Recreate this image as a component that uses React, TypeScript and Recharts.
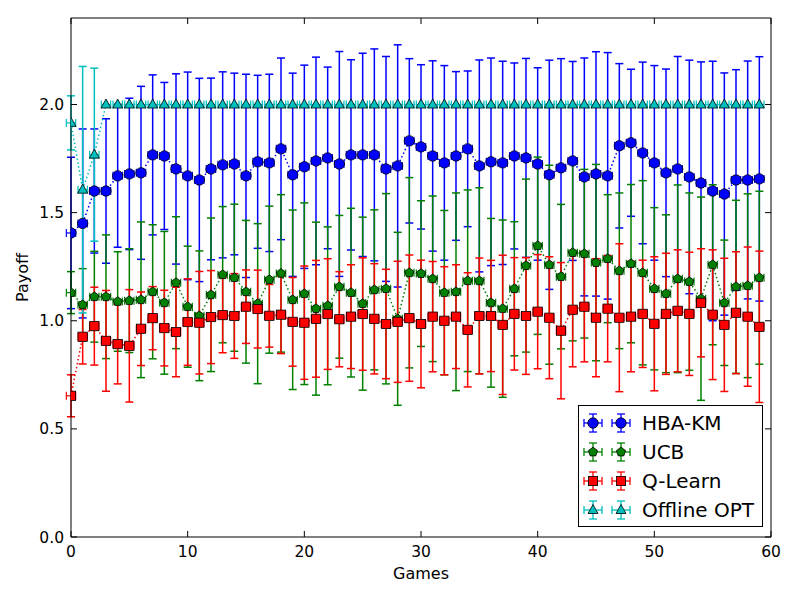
import React from "react";
import { ErrorBar, Legend, Scatter, ScatterChart, XAxis, YAxis } from "recharts";

// Game index 0..59 on the x axis.
const GAMES = Array.from({ length: 60 }, (_, i) => i);

const HBA_KM = [
  1.406, 1.45, 1.6, 1.6, 1.67, 1.679, 1.684, 1.767, 1.762, 1.702,
  1.67, 1.651, 1.702, 1.721, 1.725, 1.67, 1.735, 1.73, 1.795, 1.675,
  1.712, 1.739, 1.753, 1.725, 1.767, 1.767, 1.767, 1.702, 1.716, 1.832,
  1.804, 1.762, 1.73, 1.762, 1.795, 1.716, 1.735, 1.73, 1.762, 1.753,
  1.725, 1.675, 1.707, 1.739, 1.665, 1.679, 1.67, 1.809, 1.823, 1.776,
  1.73, 1.684, 1.702, 1.665, 1.637, 1.6, 1.586, 1.651, 1.651, 1.656,
];
const HBA_KM_ERR = [
  0.35, 0.437, 0.287, 0.334, 0.33, 0.35, 0.4, 0.37, 0.34, 0.44,
  0.48, 0.47, 0.42, 0.43, 0.42, 0.47, 0.4, 0.41, 0.42, 0.47,
  0.47, 0.48, 0.42, 0.52, 0.44, 0.47, 0.49, 0.52, 0.56, 0.38,
  0.38, 0.44, 0.45, 0.39, 0.36, 0.49, 0.48, 0.47, 0.43, 0.46,
  0.445, 0.53, 0.505, 0.46, 0.55, 0.565, 0.57, 0.38, 0.34, 0.42,
  0.45, 0.48, 0.52, 0.54, 0.56, 0.6, 0.56, 0.51, 0.55, 0.565,
];

const UCB = [
  1.13, 1.074, 1.111, 1.111, 1.089, 1.093, 1.097, 1.134, 1.083, 1.176,
  1.065, 1.023, 1.12, 1.213, 1.199, 1.134, 1.079, 1.19, 1.219, 1.097,
  1.125, 1.056, 1.069, 1.157, 1.13, 1.079, 1.143, 1.148, 1.009, 1.222,
  1.218, 1.194, 1.13, 1.134, 1.185, 1.185, 1.083, 1.056, 1.148, 1.255,
  1.347, 1.259, 1.204, 1.315, 1.31, 1.269, 1.287, 1.231, 1.264, 1.222,
  1.148, 1.125, 1.194, 1.181, 1.102, 1.259, 1.083, 1.157, 1.162, 1.199,
];
const UCB_ERR = [
  0.097, 0.167, 0.21, 0.286, 0.23, 0.24, 0.36, 0.31, 0.33, 0.305,
  0.28, 0.3, 0.355, 0.315, 0.34, 0.33, 0.37, 0.34, 0.364, 0.415,
  0.42, 0.4, 0.365, 0.33, 0.39, 0.4, 0.37, 0.44, 0.4, 0.44,
  0.337, 0.383, 0.38, 0.457, 0.42, 0.43, 0.39, 0.41, 0.31, 0.4,
  0.41, 0.46, 0.334, 0.408, 0.39, 0.454, 0.296, 0.36, 0.366, 0.426,
  0.375, 0.365, 0.434, 0.41, 0.47, 0.37, 0.29, 0.4, 0.425, 0.4,
];

const Q_LEARN = [
  0.653, 0.926, 0.975, 0.907, 0.892, 0.884, 0.963, 1.012, 0.966, 0.948,
  0.994, 0.991, 1.017, 1.026, 1.022, 1.065, 1.054, 1.023, 1.028, 0.995,
  0.991, 1.009, 1.031, 1.007, 1.019, 1.031, 1.009, 0.985, 0.995, 1.012,
  0.985, 1.019, 1.0, 1.019, 0.958, 1.022, 1.022, 0.981, 1.032, 1.022,
  1.042, 1.014, 0.954, 1.051, 1.065, 1.014, 1.056, 1.014, 1.019, 1.032,
  0.986, 1.032, 1.046, 1.032, 1.083, 1.028, 0.981, 1.037, 1.019, 0.972,
];
const Q_LEARN_ERR = [
  0.097, 0.126, 0.18, 0.233, 0.184, 0.26, 0.17, 0.146, 0.175, 0.207,
  0.2, 0.237, 0.215, 0.174, 0.196, 0.17, 0.18, 0.145, 0.18, 0.205,
  0.262, 0.27, 0.256, 0.22, 0.24, 0.26, 0.255, 0.253, 0.28, 0.292,
  0.295, 0.255, 0.25, 0.24, 0.264, 0.268, 0.257, 0.322, 0.26, 0.27,
  0.264, 0.282, 0.315, 0.264, 0.255, 0.273, 0.246, 0.342, 0.255, 0.248,
  0.31, 0.28, 0.282, 0.285, 0.25, 0.3, 0.308, 0.282, 0.322, 0.35,
];

const OFFLINE_OPT = [
  1.915, 1.606, 1.768, 2.0, 2.0, 2.0, 2.0, 2.0, 2.0, 2.0,
  2.0, 2.0, 2.0, 2.0, 2.0, 2.0, 2.0, 2.0, 2.0, 2.0,
  2.0, 2.0, 2.0, 2.0, 2.0, 2.0, 2.0, 2.0, 2.0, 2.0,
  2.0, 2.0, 2.0, 2.0, 2.0, 2.0, 2.0, 2.0, 2.0, 2.0,
  2.0, 2.0, 2.0, 2.0, 2.0, 2.0, 2.0, 2.0, 2.0, 2.0,
  2.0, 2.0, 2.0, 2.0, 2.0, 2.0, 2.0, 2.0, 2.0, 2.0,
];
const OFFLINE_OPT_ERR = [
  0.125, 0.57, 0.4, 0, 0, 0, 0, 0, 0, 0,
  0, 0, 0, 0, 0, 0, 0, 0, 0, 0,
  0, 0, 0, 0, 0, 0, 0, 0, 0, 0,
  0, 0, 0, 0, 0, 0, 0, 0, 0, 0,
  0, 0, 0, 0, 0, 0, 0, 0, 0, 0,
  0, 0, 0, 0, 0, 0, 0, 0, 0, 0,
];

// Horizontal error half-width, same for every point.
const X_ERR = 0.4;

const X_TICKS = [0, 10, 20, 30, 40, 50, 60];
const Y_TICKS = [0, 0.5, 1, 1.5, 2];

const FONT = "'DejaVu Sans', sans-serif";

type Kind = "circle" | "pentagon" | "square" | "triangle";

const toRows = (vals: number[], errs: number[]) =>
  GAMES.map((g, i) => ({ x: g, y: vals[i], err: errs[i], xerr: X_ERR }));

// The last series is hung on the top/right axes so those get drawn too
// (same domains, so the marks land in the same place).
const SERIES: { name: string; color: string; kind: Kind; rows: any[]; xId: string; yId: string }[] = [
  { name: "HBA-KM", color: "#0000ff", kind: "circle", rows: toRows(HBA_KM, HBA_KM_ERR), xId: "b", yId: "l" },
  { name: "UCB", color: "#008000", kind: "pentagon", rows: toRows(UCB, UCB_ERR), xId: "b", yId: "l" },
  { name: "Q-Learn", color: "#ff0000", kind: "square", rows: toRows(Q_LEARN, Q_LEARN_ERR), xId: "b", yId: "l" },
  {
    name: "Offline OPT",
    color: "#00bfbf",
    kind: "triangle",
    rows: toRows(OFFLINE_OPT, OFFLINE_OPT_ERR),
    xId: "t",
    yId: "r",
  },
];

const Marker = ({ kind, cx, cy, color }: { kind: Kind; cx: number; cy: number; color: string }) => {
  const edge = { fill: color, stroke: "#000", strokeWidth: 0.8 };

  if (kind === "circle") return <circle cx={cx} cy={cy} r={5.2} {...edge} />;
  if (kind === "square") return <rect x={cx - 4.6} y={cy - 4.6} width={9.2} height={9.2} {...edge} />;
  if (kind === "triangle") {
    return <polygon points={`${cx},${cy - 5.5} ${cx - 5},${cy + 3.5} ${cx + 5},${cy + 3.5}`} {...edge} />;
  }

  const pts = [0, 1, 2, 3, 4]
    .map((k) => {
      const a = -Math.PI / 2 + (k * 2 * Math.PI) / 5;
      return `${cx + 4.8 * Math.cos(a)},${cy + 4.8 * Math.sin(a)}`;
    })
    .join(" ");
  return <polygon points={pts} {...edge} />;
};

// Matplotlib-style inward ticks on all four sides.
const BottomTick = ({ x, y, payload }: any) => (
  <g>
    <line x1={x} x2={x} y1={y} y2={y - 6} stroke="#000" />
    <text x={x} y={y + 20} textAnchor="middle" fontSize={15.5} fill="#000" fontFamily={FONT}>
      {payload.value}
    </text>
  </g>
);

const LeftTick = ({ x, y, payload }: any) => (
  <g>
    <line x1={x} x2={x + 6} y1={y} y2={y} stroke="#000" />
    <text x={x - 7} y={y + 5.5} textAnchor="end" fontSize={15.5} fill="#000" fontFamily={FONT}>
      {Number(payload.value).toFixed(1)}
    </text>
  </g>
);

const TopTick = ({ x, y }: any) => <line x1={x} x2={x} y1={y} y2={y + 6} stroke="#000" />;
const RightTick = ({ x, y }: any) => <line x1={x} x2={x - 6} y1={y} y2={y} stroke="#000" />;

const LegendHandle = ({ kind, color }: { kind: Kind; color: string }) => (
  <svg width={60} height={28}>
    {[14, 42].map((cx) => (
      <g key={cx} stroke={color} strokeWidth={1.3}>
        <line x1={cx - 9} x2={cx + 9} y1={14} y2={14} />
        <line x1={cx - 9} x2={cx - 9} y1={10} y2={18} />
        <line x1={cx + 9} x2={cx + 9} y1={10} y2={18} />
        <line x1={cx} x2={cx} y1={5} y2={23} />
        <line x1={cx - 4} x2={cx + 4} y1={5} y2={5} />
        <line x1={cx - 4} x2={cx + 4} y1={23} y2={23} />
        <Marker kind={kind} cx={cx} cy={14} color={color} />
      </g>
    ))}
  </svg>
);

const renderLegend = () => (
  <div
    style={{
      width: 185,
      height: 122,
      boxSizing: "border-box",
      border: "1px solid #000",
      background: "#fff",
      paddingTop: 2,
      fontFamily: FONT,
    }}
  >
    {SERIES.map((s) => (
      <div key={s.name} style={{ display: "flex", alignItems: "center", height: 29 }}>
        <LegendHandle kind={s.kind} color={s.color} />
        <span style={{ marginLeft: 3, fontSize: 20, color: "#000" }}>{s.name}</span>
      </div>
    ))}
  </div>
);

export default function App() {
  return (
    <div style={{ position: "absolute", left: 0, top: 0, width: 800, height: 600, background: "#fff" }}>
      <ScatterChart
        width={800}
        height={600}
        margin={{ top: 17, right: 28, bottom: 33, left: 11 }}
        style={{ fontFamily: FONT }}
      >
        <XAxis
          xAxisId="b"
          type="number"
          dataKey="x"
          domain={[0, 60]}
          allowDataOverflow
          ticks={X_TICKS}
          tickSize={0}
          tickMargin={0}
          tick={<BottomTick />}
          axisLine={{ stroke: "#000" }}
          height={30}
          label={{ value: "Games", position: "bottom", offset: 1, fontSize: 16, fill: "#000" }}
        />
        <XAxis
          xAxisId="t"
          orientation="top"
          type="number"
          dataKey="x"
          domain={[0, 60]}
          allowDataOverflow
          ticks={X_TICKS}
          tickSize={0}
          tickMargin={0}
          tick={<TopTick />}
          axisLine={{ stroke: "#000" }}
          height={1}
        />
        <YAxis
          yAxisId="l"
          type="number"
          dataKey="y"
          domain={[0, 2.4]}
          allowDataOverflow
          ticks={Y_TICKS}
          tickSize={0}
          tickMargin={0}
          tick={<LeftTick />}
          axisLine={{ stroke: "#000" }}
          width={60}
          label={{
            value: "Payoff",
            angle: -90,
            position: "insideLeft",
            offset: 11,
            fontSize: 16,
            fill: "#000",
            style: { textAnchor: "middle" },
          }}
        />
        <YAxis
          yAxisId="r"
          orientation="right"
          type="number"
          dataKey="y"
          domain={[0, 2.4]}
          allowDataOverflow
          ticks={Y_TICKS}
          tickSize={0}
          tickMargin={0}
          tick={<RightTick />}
          axisLine={{ stroke: "#000" }}
          width={1}
        />
        {SERIES.map((s) => (
          <Scatter
            key={s.name}
            name={s.name}
            data={s.rows}
            xAxisId={s.xId}
            yAxisId={s.yId}
            fill={s.color}
            line={{ stroke: s.color, strokeWidth: 1.5, strokeDasharray: "1.5 2.5" }}
            lineType="joint"
            shape={(p: any) => <Marker kind={s.kind} cx={p.cx} cy={p.cy} color={s.color} />}
            isAnimationActive={false}
          >
            <ErrorBar dataKey="err" direction="y" width={4} stroke={s.color} strokeWidth={1.5} isAnimationActive={false} />
            <ErrorBar dataKey="xerr" direction="x" width={4} stroke={s.color} strokeWidth={1.2} isAnimationActive={false} />
          </Scatter>
        ))}
        <Legend
          layout="vertical"
          align="center"
          verticalAlign="middle"
          content={renderLegend}
          wrapperStyle={{ left: 578, top: 405, width: 185 }}
        />
      </ScatterChart>
    </div>
  );
}
